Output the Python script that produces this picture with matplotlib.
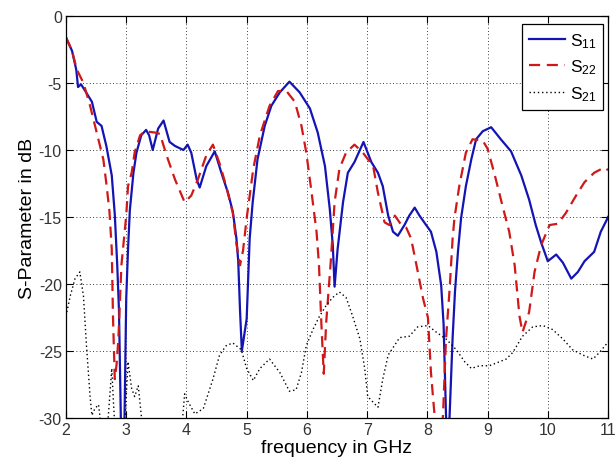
import numpy as np
import matplotlib
matplotlib.use("Agg")
from matplotlib import pyplot as plt

plt.rcParams['font.family'] = ['Liberation Sans', 'DejaVu Sans']
plt.rcParams['mathtext.fontset'] = 'custom'
plt.rcParams['mathtext.rm'] = 'Liberation Sans'
plt.rcParams['mathtext.default'] = 'regular'
plt.rcParams['axes.unicode_minus'] = False

# S11 (blue solid)
f11 = [2.0, 2.1, 2.17, 2.2, 2.25, 2.32, 2.43, 2.51, 2.59, 2.67, 2.76, 2.81, 2.85, 2.88, 2.91, 2.94, 2.97,
       3.0, 3.03, 3.06, 3.12, 3.17, 3.25, 3.33, 3.38, 3.44, 3.53, 3.62, 3.72, 3.81, 3.95, 4.02, 4.08,
       4.17, 4.22, 4.33, 4.47, 4.58, 4.69, 4.77, 4.83, 4.86, 4.89, 4.92, 4.96, 5.0, 5.05, 5.1, 5.18,
       5.3, 5.41, 5.55, 5.71, 5.88, 6.05, 6.18, 6.3, 6.38, 6.43, 6.46, 6.51, 6.6, 6.68, 6.79, 6.94,
       7.07, 7.18, 7.26, 7.35, 7.43, 7.51, 7.62, 7.7, 7.79, 7.87, 7.98, 8.06, 8.15, 8.23, 8.27, 8.31,
       8.34, 8.37, 8.42, 8.46, 8.51, 8.56, 8.64, 8.73, 8.81, 8.92, 9.06, 9.22, 9.39, 9.56, 9.69, 9.8,
       9.89, 10.0, 10.14, 10.25, 10.39, 10.5, 10.61, 10.77, 10.88, 10.97, 11.0]
s11 = [-1.6, -2.6, -4.0, -5.3, -5.1, -5.6, -6.4, -7.9, -8.2, -9.7, -11.9, -14.8, -18.5, -22.0, -29.9, -34.0, -30.5,
       -21.1, -17.4, -14.5, -11.7, -10.2, -8.9, -8.5, -8.9, -10.0, -8.4, -7.8, -9.4, -9.7, -10.0, -9.6, -10.2,
       -12.2, -12.8, -11.2, -10.1, -11.7, -13.2, -14.6, -16.6, -18.3, -22.0, -25.0, -23.8, -22.6, -16.6, -13.9, -10.7,
       -8.2, -6.7, -5.7, -4.9, -5.7, -6.9, -8.7, -11.2, -14.4, -17.1, -20.2, -17.4, -13.9, -11.7, -10.9, -9.4,
       -10.9, -11.7, -12.7, -14.9, -16.1, -16.4, -15.6, -14.9, -14.3, -14.9, -15.6, -16.1, -17.6, -20.1, -23.0, -29.8,
       -33.0, -29.8, -24.0, -20.5, -17.5, -15.1, -12.7, -10.7, -9.2, -8.6, -8.3, -9.2, -10.1, -11.9, -13.7, -15.6,
       -16.9, -18.3, -17.8, -18.4, -19.6, -19.1, -18.3, -17.6, -16.1, -15.3, -15.0]

# S22 (red dashed)
f22 = [2.0, 2.1, 2.18, 2.29, 2.4, 2.51, 2.62, 2.67, 2.72, 2.76, 2.78, 2.81, 2.84, 2.87, 2.92, 3.0, 3.03,
       3.09, 3.14, 3.23, 3.31, 3.48, 3.56, 3.67, 3.81, 3.97, 4.08, 4.19, 4.33, 4.44, 4.55, 4.66, 4.77,
       4.83, 4.89, 4.94, 5.0, 5.11, 5.22, 5.38, 5.52, 5.66, 5.8, 5.91, 5.99, 6.07, 6.16, 6.2, 6.24,
       6.28, 6.32, 6.4, 6.46, 6.54, 6.65, 6.79, 6.93, 7.1, 7.18, 7.29, 7.37, 7.46, 7.57, 7.65, 7.73,
       7.82, 7.93, 8.01, 8.06, 8.12, 8.19, 8.26, 8.31, 8.37, 8.42, 8.45, 8.53, 8.64, 8.75, 8.92, 9.0,
       9.11, 9.25, 9.36, 9.45, 9.53, 9.58, 9.69, 9.78, 9.89, 10.03, 10.17, 10.3, 10.47, 10.61, 10.77,
       10.94, 11.0]
s22 = [-1.6, -2.6, -4.0, -5.0, -6.7, -8.7, -10.7, -12.5, -14.5, -17.4, -22.4, -27.1, -26.0, -24.1, -18.6, -14.9, -12.7,
       -11.7, -10.2, -8.9, -8.6, -8.7, -8.8, -10.4, -12.2, -13.9, -13.4, -12.2, -10.4, -9.6, -11.0, -12.7, -14.7,
       -17.0, -18.6, -17.5, -15.1, -11.4, -8.9, -6.7, -5.6, -5.6, -6.4, -8.2, -10.2, -12.9, -16.1, -18.5, -22.9,
       -26.7, -22.9, -18.1, -13.9, -11.4, -10.2, -9.6, -10.2, -11.2, -13.2, -15.4, -15.6, -14.9, -15.6, -15.8, -16.6,
       -18.6, -21.1, -22.5, -26.6, -29.8, -33.0, -29.8, -24.1, -20.4, -16.6, -15.1, -12.7, -10.2, -9.2, -9.3, -9.9,
       -11.7, -14.2, -16.1, -18.6, -22.4, -23.6, -22.1, -19.1, -17.1, -15.6, -15.5, -14.7, -13.4, -12.4, -11.7,
       -11.3, -11.5]

# S21 (black dotted)
f21 = [2.0, 2.07, 2.15, 2.23, 2.29, 2.34, 2.4, 2.43, 2.48, 2.54, 2.58, 2.65, 2.7, 2.76, 2.79, 2.83, 2.97,
       3.03, 3.09, 3.14, 3.2, 3.25, 3.3, 3.9, 3.97, 4.03, 4.14, 4.28, 4.44, 4.55, 4.66, 4.77, 4.91,
       5.0, 5.11, 5.22, 5.38, 5.55, 5.71, 5.82, 5.91, 5.99, 6.1, 6.21, 6.32, 6.43, 6.54, 6.65, 6.76,
       6.88, 6.96, 7.01, 7.18, 7.26, 7.35, 7.54, 7.7, 7.84, 8.01, 8.15, 8.31, 8.48, 8.62, 8.73, 8.87,
       9.03, 9.2, 9.31, 9.42, 9.58, 9.75, 9.92, 10.08, 10.25, 10.41, 10.58, 10.75, 10.86, 10.97, 11.0]
s21 = [-22.4, -20.9, -19.6, -19.1, -20.9, -24.6, -28.4, -29.8, -29.3, -29.0, -30.5, -31.0, -30.0, -26.3, -29.0, -32.0, -31.0,
       -25.8, -27.8, -28.4, -27.6, -29.8, -32.0, -32.0, -28.2, -28.8, -29.7, -29.3, -27.1, -25.3, -24.6, -24.4, -24.9,
       -26.3, -27.2, -26.3, -25.6, -26.6, -28.0, -27.9, -26.6, -24.6, -23.4, -22.4, -21.6, -21.0, -20.6, -21.0, -22.4,
       -24.1, -26.3, -28.4, -29.2, -27.1, -25.3, -24.0, -23.9, -23.2, -23.1, -23.6, -24.1, -24.9, -25.8, -26.3, -26.1,
       -26.1, -25.8, -25.6, -25.1, -23.9, -23.2, -23.1, -23.4, -24.1, -24.9, -25.3, -25.6, -25.1, -24.5, -24.3]

fig = plt.figure(figsize=(6.15, 4.64), dpi=100)
ax = fig.add_axes([66/615, 1-419/464, (608-66)/615, (419-17)/464])

ax.plot(f11, s11, color='#1414b4', lw=1.6, label='S$_{11}$')
ax.plot(f22, s22, color='#d01818', lw=1.6, ls=(0, (5, 3)), label='S$_{22}$')
ax.plot(f21, s21, color='black', lw=1.0, ls=(0, (1, 2)), label='S$_{21}$')

ax.set_xlim(2, 11)
ax.set_ylim(-30, 0)
ax.set_xticks(range(2, 12))
ax.set_yticks([-30, -25, -20, -15, -10, -5, 0])
ax.grid(True, color='black', ls=(0, (1, 3)), lw=0.6)
ax.tick_params(direction='in', top=True, right=True, length=5, labelsize=11.5, labelcolor='#333333', pad=3)
for sp in ax.spines.values():
    sp.set_linewidth(0.9)

ax.set_xlabel('frequency in GHz', fontsize=14, labelpad=1)
ax.set_ylabel('S-Parameter in dB', fontsize=14, labelpad=2)

leg = ax.legend(loc='upper right', bbox_to_anchor=(0.991, 0.98), fancybox=False, framealpha=1,
                edgecolor='black', fontsize=12.5, handlelength=2.1, borderaxespad=0, labelspacing=0.45,
                handletextpad=0.25, borderpad=0.4)
leg.get_frame().set_linewidth(0.9)

plt.savefig('out.png', dpi=100)
